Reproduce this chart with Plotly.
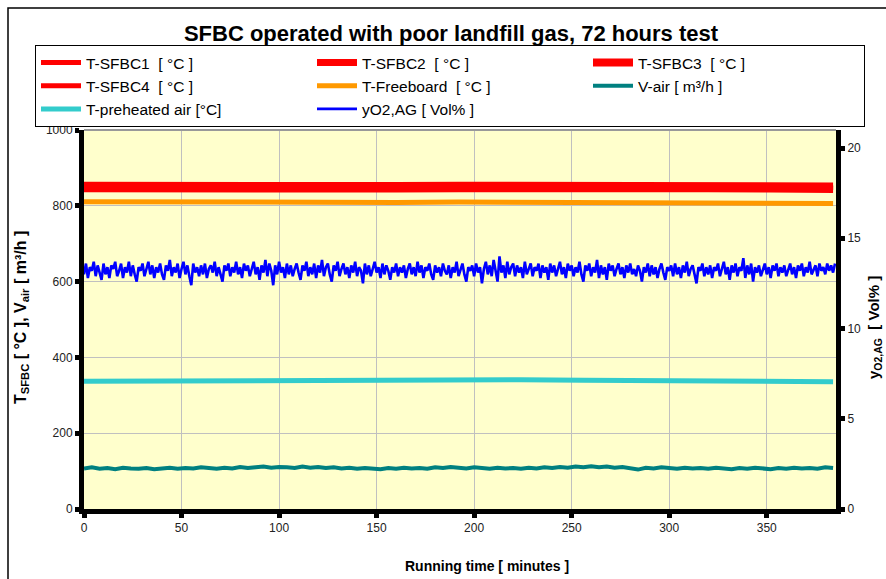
import plotly.graph_objects as go

# ---------------- data ----------------
t_coarse = [0, 32, 64, 96, 128, 160, 192, 224, 256, 288, 320, 352, 384]
t_sfbc1 = [850, 849, 851, 850, 849, 850, 851, 849, 850, 849, 848, 849, 848]
t_sfbc2 = [845, 844, 846, 845, 845, 844, 845, 846, 845, 844, 845, 844, 843]
t_sfbc3 = [853, 852, 853, 854, 853, 852, 853, 852, 853, 852, 851, 852, 851]
t_sfbc4 = [848, 849, 848, 849, 848, 849, 848, 848, 849, 848, 847, 848, 847]
t_freeboard = [811, 810, 811, 810, 809, 809, 810, 809, 808, 808, 807, 806, 806]
t_preheated = [337, 338, 339, 340, 341, 341, 341, 341, 340, 339, 338, 337, 336]

t_vair = list(range(0, 385, 4))
v_air = [107, 110, 106, 108, 105, 109, 107, 106, 108, 105, 107, 109, 106, 108, 107, 110,
         108, 106, 109, 107, 111, 108, 110, 112, 109, 111, 110, 108, 112, 109, 111, 108,
         110, 107, 109, 106, 108, 107, 105, 108, 106, 109, 107, 108, 106, 110, 108, 111,
         109, 107, 110, 108, 106, 109, 107, 108, 106, 109, 107, 110, 108, 111, 109, 112,
         110, 113, 110, 112, 109, 111, 108, 104, 109, 107, 110, 108, 106, 109, 107, 108,
         106, 109, 107, 105, 108, 106, 109, 107, 105, 108, 106, 109, 107, 108, 106, 110,
         108]

t_o2 = list(range(0, 386))
y_o2 = [13.0, 13.6, 12.8, 13.4, 13.2, 13.7, 12.9, 13.5, 13.1, 12.7, 13.6, 13.0, 13.4, 12.8, 13.5, 13.3, 13.7, 12.9, 13.2, 13.6,
        12.8, 13.4, 13.1, 13.7, 12.9, 13.5, 13.0, 12.6, 13.4, 13.2, 13.6, 12.9, 13.3, 13.7, 13.0, 13.5, 12.8, 13.4, 13.1, 13.6,
        13.0, 12.7, 13.5, 13.2, 13.8, 12.9, 13.4, 13.1, 13.6, 12.8, 13.3, 13.7, 13.0, 13.5, 12.9, 12.4, 13.6, 13.1, 13.4, 12.9,
        13.5, 13.0, 13.6, 12.8, 13.3, 13.5, 13.1, 13.7, 12.9, 13.4, 13.0, 12.6, 13.5, 13.2, 13.6, 12.9, 13.4, 13.1, 13.7, 13.0,
        13.4, 12.8, 13.6, 13.2, 13.5, 12.9, 13.3, 13.7, 13.0, 13.4, 12.7, 13.5, 13.1, 13.8, 12.9, 13.6, 13.2, 12.4, 13.5, 13.0,
        13.7, 13.1, 13.4, 12.8, 13.6, 13.0, 13.5, 12.9, 13.3, 13.6, 13.1, 12.7, 13.5, 13.2, 13.7, 12.9, 13.4, 13.0, 13.6, 12.8,
        13.5, 13.1, 13.8, 12.9, 13.4, 13.6, 13.0, 12.6, 13.5, 13.2, 13.7, 12.9, 13.3, 13.6, 13.0, 13.4, 12.8, 13.5, 13.1, 13.7,
        12.9, 13.4, 13.2, 12.5, 13.6, 13.0, 13.5, 12.9, 13.3, 13.7, 13.1, 13.4, 12.8, 13.6, 13.0, 13.5, 13.2, 12.7, 13.4, 13.1,
        13.6, 12.9, 13.4, 13.1, 13.5, 12.8, 13.3, 13.6, 13.0, 13.4, 12.9, 13.7, 13.1, 13.5, 12.8, 13.4, 13.2, 13.6, 13.0, 12.7,
        13.5, 13.1, 13.4, 12.9, 13.6, 13.2, 13.0, 13.5, 12.8, 13.4, 13.1, 13.7, 12.9, 13.3, 13.6, 13.0, 12.6, 13.4, 13.2, 13.5,
        12.9, 13.6, 13.1, 13.4, 12.5, 13.3, 13.7, 13.0, 13.5, 12.9, 13.8, 13.2, 12.6, 14.0, 13.1, 13.5, 12.8, 13.7, 13.0, 13.4,
        13.6, 12.9, 13.5, 13.1, 13.4, 12.8, 13.7, 13.0, 13.3, 13.6, 12.9, 13.4, 13.2, 13.6, 12.8, 13.5, 13.1, 13.4, 12.7, 13.6,
        13.1, 13.5, 12.9, 13.3, 13.7, 13.0, 13.4, 12.8, 13.6, 13.2, 13.5, 12.9, 13.4, 13.1, 13.7, 13.0, 12.6, 13.5, 13.2, 13.6,
        12.9, 13.4, 13.1, 13.8, 12.8, 13.5, 13.0, 13.4, 12.7, 13.6, 13.2, 13.5, 12.9, 13.3, 13.6, 13.0, 13.4, 12.8, 13.5, 13.1,
        13.6, 13.0, 13.3, 12.9, 13.5, 13.2, 12.6, 13.4, 13.1, 13.6, 12.9, 13.5, 13.0, 13.4, 12.8, 13.3, 13.6, 13.1, 12.7, 13.4,
        13.2, 13.5, 12.9, 13.6, 13.0, 13.4, 12.8, 13.5, 13.1, 13.7, 12.9, 13.3, 13.5, 13.0, 12.5, 13.4, 13.2, 13.6, 12.9, 13.4,
        13.0, 13.5, 12.8, 13.4, 13.2, 13.6, 12.9, 13.3, 13.7, 13.0, 13.4, 12.7, 13.5, 13.1, 13.6, 12.9, 13.4, 13.2, 13.9, 12.8,
        13.5, 13.0, 13.6, 12.6, 13.4, 13.1, 13.5, 12.9, 13.3, 13.6, 13.0, 13.4, 12.8, 13.5, 13.2, 13.6, 12.9, 13.4, 13.1, 13.5,
        12.9, 13.3, 13.6, 13.0, 13.4, 12.8, 13.5, 13.2, 13.6, 12.9, 13.4, 13.1, 13.7, 13.0, 13.3, 13.5, 12.9, 13.6, 13.2, 13.4,
        13.0, 13.6, 13.2, 13.5, 13.1, 13.6]

x_ticks = [0, 50, 100, 150, 200, 250, 300, 350]

FONT = "Liberation Sans, Arial, sans-serif"
W, H = 886, 579

fig = go.Figure()
fig.add_trace(go.Scatter(x=t_coarse, y=t_sfbc1, mode="lines", name="T-SFBC1  [ °C ]",
                         line=dict(color="#FF0000", width=5)))
fig.add_trace(go.Scatter(x=t_coarse, y=t_sfbc2, mode="lines", name="T-SFBC2  [ °C ]",
                         line=dict(color="#FF0000", width=7)))
fig.add_trace(go.Scatter(x=t_coarse, y=t_sfbc3, mode="lines", name="T-SFBC3  [ °C ]",
                         line=dict(color="#FF0000", width=8)))
fig.add_trace(go.Scatter(x=t_coarse, y=t_sfbc4, mode="lines", name="T-SFBC4  [ °C ]",
                         line=dict(color="#FF0000", width=5)))
fig.add_trace(go.Scatter(x=t_coarse, y=t_freeboard, mode="lines", name="T-Freeboard  [ °C ]",
                         line=dict(color="#FF9900", width=5)))
fig.add_trace(go.Scatter(x=t_vair, y=v_air, mode="lines", name="V-air [ m³/h ]",
                         line=dict(color="#008080", width=4)))
fig.add_trace(go.Scatter(x=t_coarse, y=t_preheated, mode="lines", name="T-preheated air [°C]",
                         line=dict(color="#33CCCC", width=5)))
fig.add_trace(go.Scatter(x=t_o2, y=y_o2, mode="lines", name="yO2,AG [ Vol% ]", yaxis="y2",
                         line=dict(color="#0000FF", width=2.6)))

# pixel -> paper (plot area: x 84..836, y 130..509)
def px(x):
    return (x - 84) / 752.0

def py(y):
    return (509 - y) / 379.0

fig.update_layout(
    width=W, height=H,
    margin=dict(l=84, r=W - 836, t=130, b=H - 509),
    paper_bgcolor="white",
    plot_bgcolor="#FFFFCC",
    font=dict(family=FONT, color="#222222"),
    title=dict(text="<b>SFBC operated with poor landfill gas, 72 hours test</b>",
               x=451 / W, xanchor="center", y=1 - 33 / H, yanchor="middle",
               font=dict(size=22, color="black", family=FONT)),
    showlegend=True,
    legend=dict(orientation="h", x=px(35), y=py(45), xanchor="left", yanchor="top",
                bordercolor="black", borderwidth=1, bgcolor="white",
                entrywidth=221, entrywidthmode="pixels",
                font=dict(size=15.5, color="black", family=FONT),
                itemwidth=40, tracegroupgap=0),
    xaxis=dict(range=[0, 385.5], tickvals=x_ticks, showgrid=True, gridcolor="#C0C0C0",
               gridwidth=1, zeroline=False, showline=True, linewidth=5, linecolor="black",
               ticks="outside", ticklen=4, tickwidth=5, tickcolor="black",
               tickfont=dict(size=12, color="#222222")),
    yaxis=dict(range=[0, 1000], dtick=200, showgrid=True, gridcolor="#C0C0C0", gridwidth=1,
               zeroline=False, showline=True, linewidth=5, linecolor="black",
               ticks="outside", ticklen=4, tickwidth=5, tickcolor="black",
               tickfont=dict(size=12, color="#222222")),
    yaxis2=dict(range=[0, 21], dtick=5, overlaying="y", side="right", showgrid=False,
                zeroline=False, showline=True, linewidth=5, linecolor="black",
                ticks="outside", ticklen=4, tickwidth=5, tickcolor="black",
                tickfont=dict(size=12, color="#222222")),
    shapes=[
        dict(type="line", xref="paper", yref="paper", x0=0, x1=1, y0=1, y1=1,
             line=dict(color="#999999", width=2), layer="above"),
        dict(type="rect", xref="paper", yref="paper", x0=px(8), x1=px(900), y0=py(600), y1=py(8),
             line=dict(color="black", width=1.5), layer="below"),
    ],
    annotations=[
        dict(text="<b>T<sub>SFBC</sub> [ °C ], V<sub>air</sub> [ m³/h ]</b>", textangle=-90,
             xref="paper", yref="paper", x=px(21), y=py(318), showarrow=False,
             xanchor="center", yanchor="middle", font=dict(size=16, color="black", family=FONT)),
        dict(text="<b>y<sub>O2,AG</sub>  [ Vol% ]</b>", textangle=-90,
             xref="paper", yref="paper", x=px(874), y=py(328), showarrow=False,
             xanchor="center", yanchor="middle", font=dict(size=15, color="black", family=FONT)),
        dict(text="<b>Running time [ minutes ]</b>",
             xref="paper", yref="paper", x=px(487), y=py(566), showarrow=False,
             xanchor="center", yanchor="middle", font=dict(size=14, color="black", family=FONT)),
    ],
)

fig.write_html(
    "out.html",
    config={"displayModeBar": False},
    post_script="document.body.style.margin='0';document.body.style.padding='0';"
                "document.documentElement.style.overflow='hidden';",
)
